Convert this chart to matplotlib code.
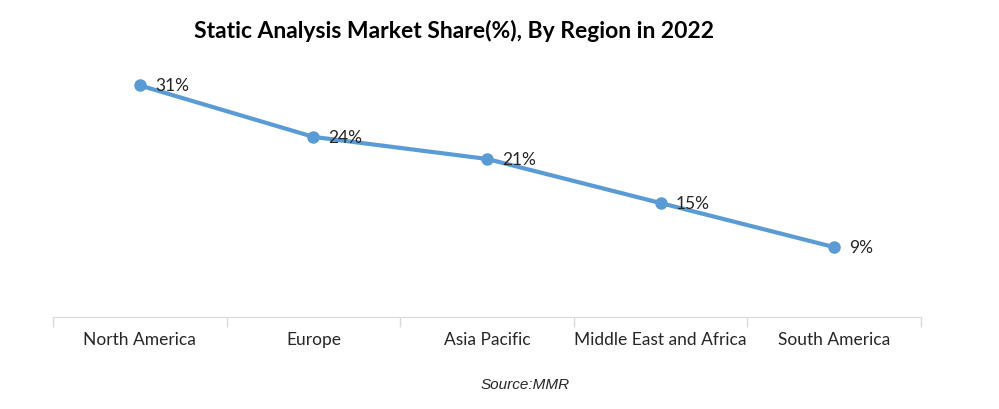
import matplotlib.pyplot as plt

regions = ['North America', 'Europe', 'Asia Pacific', 'Middle East and Africa', 'South America']
share = [31, 24, 21, 15, 9]
labels = ['31%', '24%', '21%', '15%', '9%']

fig = plt.figure(figsize=(9.99, 4.1), dpi=100)
ax = fig.add_axes([53 / 999, 92 / 410, 868 / 999, 261 / 410])

x = list(range(len(regions)))
ax.plot(x, share, color='#5B9BD5', linewidth=3, marker='o', markersize=8)
for i, v in enumerate(share):
    ax.annotate(labels[i], (i, v), xytext=(11, 0), textcoords='offset points',
                ha='left', va='center', fontsize=12.5, family='Lato', color='#262626')

ax.set_xlim(-0.5, len(regions) - 0.5)
ax.set_ylim(-0.5, 35)
ax.set_yticks([])
ax.set_xticks(x)
ax.set_xticklabels(regions, fontsize=12.5, family='Lato', color='#262626')
ax.tick_params(axis='x', which='major', length=0, pad=10)
ax.set_xticks([i - 0.5 for i in range(len(regions) + 1)], minor=True)
ax.tick_params(axis='x', which='minor', length=7, color='#D9D9D9', width=1)
for s in ['top', 'right', 'left']:
    ax.spines[s].set_visible(False)
ax.spines['bottom'].set_color('#D9D9D9')

fig.text(0.454, 0.925, 'Static Analysis Market Share(%), By Region in 2022',
         ha='center', va='center', fontsize=16.5, fontweight='bold', family='Lato')
fig.text(0.526, 0.06, 'Source:MMR', ha='center', va='center', fontsize=11,
         style='italic', family='Liberation Sans', color='#262626')

fig.savefig('out.png', dpi=100)
